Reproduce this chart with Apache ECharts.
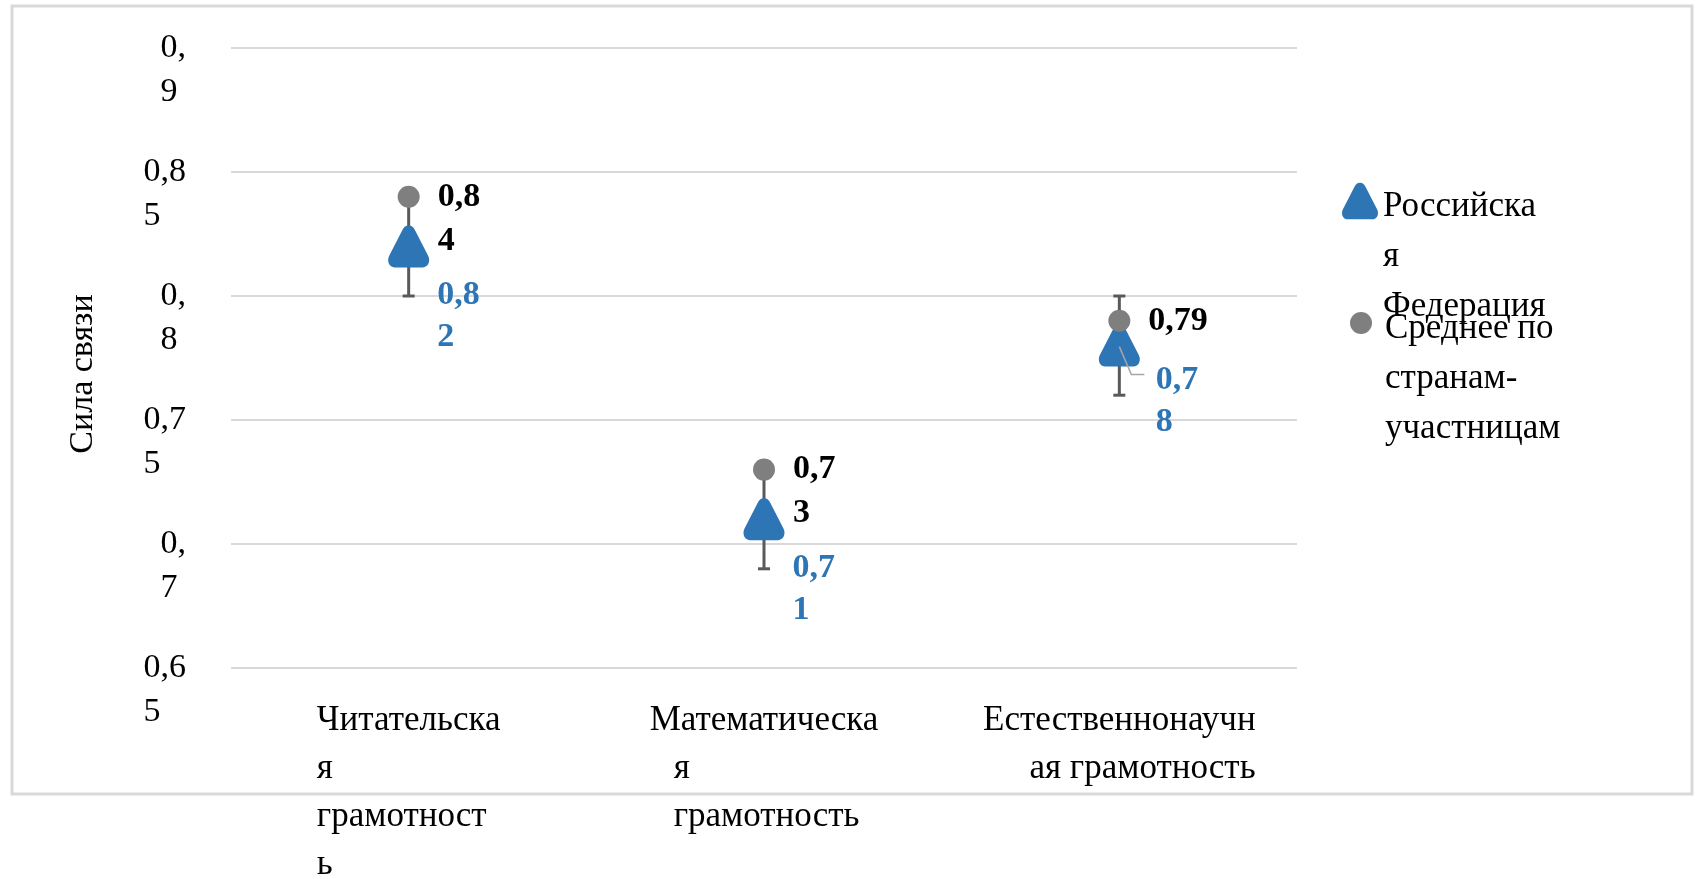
<!DOCTYPE html>
<html>
<head>
<meta charset="utf-8">
<script src="https://cdn.jsdelivr.net/npm/echarts@6/dist/echarts.min.js"></script>
<style>
  html, body { margin: 0; padding: 0; background: #ffffff; }
  #chart { width: 1698px; height: 879px; }
</style>
</head>
<body>
<div id="chart"></div>
<script>
// Categories (as printed, with their line breaks)
const categories = ['Читательска\nя\nграмотност\nь', 'Математическа\nя\nграмотность', 'Естественнонаучн\nая грамотность'];
const seriesNames = ['Российская Федерация', 'Среднее по странам-участницам'];
const legendLabels = {
  'Российская Федерация': 'Российска\nя\nФедерация',
  'Среднее по странам-участницам': 'Среднее по\nстранам-\nучастницам'
};
// Values
const russiaValues = [0.82, 0.71, 0.78];
const averageValues = [0.84, 0.73, 0.79];
// Error bar bounds for the Russian Federation series
const errorLow = [0.80, 0.69, 0.76];
const errorHigh = [0.84, 0.73, 0.80];
// Value axis
const yMin = 0.65, yMax = 0.9, yStep = 0.05;
const yTitle = 'Сила связи';
// Russian Federation label that is moved off its marker (gets a leader line)
const movedLabelIndex = 2;

const FONT = '"Liberation Serif", "Times New Roman", serif';
const BLUE = '#2E75B6';
const GREY = '#7F7F7F';
const fmt = v => String(+(+v).toFixed(2)).replace('.', ',');

// rounded triangle marker
const TRI = 'path://M50,0 C58,0 62,5 65,11 L97,73 C103,86 96,100 84,100 L16,100 C4,100 -3,86 3,73 L35,11 C38,5 42,0 50,0 Z';

// per-line alignment of the category labels
const catLineStyles = [['l', 'l', 'l', 'l'], ['l', 'i', 'i'], ['l', 'r']];

// legend text: two spacer lines keep the first printed line level with the icon
const legendText = n => '{s|}\n{s|}\n' + legendLabels[n];
const legendRich = { s: { lineHeight: 56, fontSize: 35, fontFamily: FONT } };

const chart = echarts.init(document.getElementById('chart'), null, { renderer: 'canvas' });

const option = {
  animation: false,
  backgroundColor: '#ffffff',
  textStyle: { fontFamily: FONT },
  graphic: [{
    type: 'rect', silent: true, z: -10,
    shape: { x: 12, y: 6, width: 1680, height: 788 },
    style: { fill: 'none', stroke: '#D9D9D9', lineWidth: 3 }
  }],
  grid: { left: 231, right: 401, top: 48, bottom: 211, containLabel: false, outerBoundsMode: 'none' },
  legend: [
    {
      data: [seriesNames[0]], left: 1342, top: 70, orient: 'vertical', padding: 0,
      itemWidth: 36, itemHeight: 37, selectedMode: false,
      formatter: legendText,
      textStyle: { fontFamily: FONT, fontSize: 35, lineHeight: 50, color: '#000', rich: legendRich }
    },
    {
      data: [seriesNames[1]], left: 1350, top: 192, orient: 'vertical', padding: 0,
      itemWidth: 22, itemHeight: 22, selectedMode: false,
      formatter: legendText,
      textStyle: { fontFamily: FONT, fontSize: 35, lineHeight: 50, color: '#000', padding: [0, 0, 0, 8], rich: legendRich }
    }
  ],
  xAxis: {
    type: 'category',
    data: categories,
    axisLine: { show: false },
    axisTick: { show: false },
    splitLine: { show: false },
    axisLabel: {
      interval: 0, margin: 29,
      fontFamily: FONT, fontSize: 35, lineHeight: 48, color: '#000',
      formatter: (v, i) => v.split('\n').map((line, k) => '{' + catLineStyles[i][k] + '|' + line + '}').join('\n'),
      rich: {
        l: { align: 'left', fontFamily: FONT, fontSize: 35, lineHeight: 48, color: '#000' },
        r: { align: 'right', fontFamily: FONT, fontSize: 35, lineHeight: 48, color: '#000' },
        i: { align: 'left', padding: [0, 0, 0, 24], fontFamily: FONT, fontSize: 35, lineHeight: 48, color: '#000' }
      }
    }
  },
  yAxis: {
    type: 'value',
    min: yMin, max: yMax, interval: yStep,
    name: yTitle,
    nameLocation: 'middle', nameRotate: 90, nameGap: 131,
    nameTextStyle: { fontFamily: FONT, fontSize: 34, color: '#000', padding: [0, 32, 0, 0] },
    axisLine: { show: false },
    axisTick: { show: false },
    splitLine: { lineStyle: { color: '#D9D9D9', width: 2 } },
    axisLabel: {
      margin: 45,
      showMinLabel: true, showMaxLabel: true, hideOverlap: false,
      // negative bottom padding: the first line sits on the tick, the box stays one line tall
      padding: [0, 0, -44, 0],
      fontFamily: FONT, fontSize: 34, lineHeight: 44, color: '#000',
      formatter: v => { const s = fmt(v); return '{a|' + s.slice(0, -1) + '}\n{a|' + s.slice(-1) + '}'; },
      rich: { a: { align: 'left', fontFamily: FONT, fontSize: 34, lineHeight: 44, color: '#000' } }
    }
  },
  series: [
    {
      // error bars
      type: 'custom',
      z: 2, silent: true,
      data: errorLow.map((lo, i) => [i, lo, errorHigh[i]]),
      encode: { x: 0, y: [1, 2] },
      renderItem: (params, api) => {
        const x = api.value(0);
        const lo = api.coord([x, api.value(1)]);
        const hi = api.coord([x, api.value(2)]);
        const w = 12;
        const st = { stroke: '#595959', lineWidth: 3 };
        return {
          type: 'group',
          children: [
            { type: 'line', shape: { x1: lo[0], y1: lo[1], x2: hi[0], y2: hi[1] }, style: st },
            { type: 'line', shape: { x1: lo[0] - w / 2, y1: lo[1], x2: lo[0] + w / 2, y2: lo[1] }, style: st },
            { type: 'line', shape: { x1: hi[0] - w / 2, y1: hi[1], x2: hi[0] + w / 2, y2: hi[1] }, style: st }
          ]
        };
      }
    },
    {
      name: seriesNames[0],
      type: 'scatter',
      z: 3,
      symbol: TRI,
      symbolSize: [41, 42],
      itemStyle: { color: BLUE, opacity: 1 },
      data: russiaValues.map((v, i) => [i, v]),
      label: {
        show: true, position: 'right', distance: 8, verticalAlign: 'top',
        formatter: p => fmt(p.value[1]),
        fontFamily: FONT, fontSize: 34, fontWeight: 'bold', color: BLUE, lineHeight: 42,
        width: 46, overflow: 'breakAll'
      },
      labelLayout: p => p.dataIndex === movedLabelIndex ? { dx: 8, dy: 14 } : { dy: 28 },
      emphasis: { disabled: true }
    },
    {
      // leader line of the moved label
      type: 'custom',
      z: 5, silent: true,
      data: [[movedLabelIndex, russiaValues[movedLabelIndex]]],
      encode: { x: 0, y: 1 },
      renderItem: (params, api) => {
        const c = api.coord([api.value(0), api.value(1)]);
        return {
          type: 'polyline',
          shape: { points: [[c[0], c[1] + 1], [c[0] + 12, c[1] + 29], [c[0] + 25, c[1] + 29]] },
          style: { stroke: '#A6A6A6', lineWidth: 1.5, fill: 'none' }
        };
      }
    },
    {
      name: seriesNames[1],
      type: 'scatter',
      z: 4,
      symbol: 'circle',
      symbolSize: 22,
      itemStyle: { color: GREY, opacity: 1 },
      data: averageValues.map((v, i) => i === 2 ? { value: [i, v], label: { width: 100 } } : [i, v]),
      label: {
        show: true, position: 'right', distance: 18, verticalAlign: 'top', offset: [0, -22],
        formatter: p => fmt(p.value[1]),
        fontFamily: FONT, fontSize: 34, fontWeight: 'bold', color: '#000', lineHeight: 44,
        width: 46, overflow: 'breakAll'
      },
      emphasis: { disabled: true }
    }
  ]
};

chart.setOption(option);
</script>
</body>
</html>
